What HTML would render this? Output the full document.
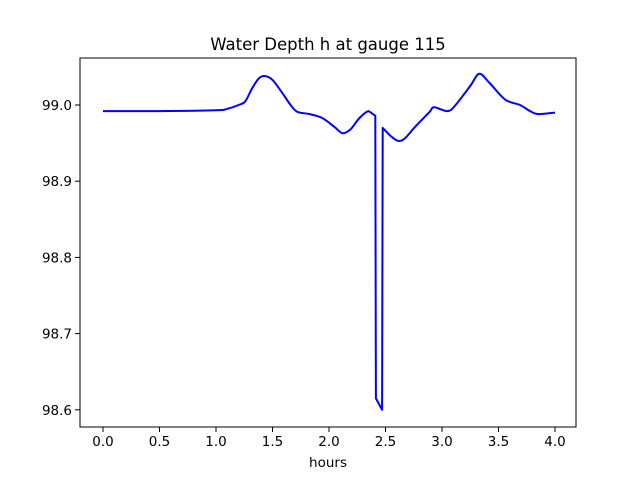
<!DOCTYPE html>
<html><head><meta charset="utf-8"><style>
body{margin:0;background:#fff;font-family:"DejaVu Sans","Liberation Sans",sans-serif}
</style></head><body>
<svg width="640" height="480" xmlns="http://www.w3.org/2000/svg" font-family="DejaVu Sans, Liberation Sans, sans-serif">
<rect width="640" height="480" fill="#fff"/>
<text x="328" y="50" text-anchor="middle" font-size="16.5">Water Depth h at gauge 115</text>
<g id="ticks"></g>
<path id="line" fill="none" stroke="#0000ff" stroke-width="2" stroke-linejoin="round"/>
<rect x="80" y="58" width="496" height="369" fill="none" stroke="#000" stroke-width="1"/>
<text x="328" y="467" text-anchor="middle" font-size="13.5">hours</text>
</svg>
<script>
const times=[0,0.5,1.0,1.1,1.2,1.26,1.32,1.38,1.43,1.5,1.59,1.66,1.72,1.83,1.94,2.05,2.12,2.19,2.27,2.35,2.41,2.415,2.47,2.475,2.54,2.61,2.67,2.76,2.89,2.93,3.05,3.12,3.25,3.33,3.42,3.56,3.69,3.78,3.85,4.0];
const depth=[98.992,98.992,98.993,98.995,99.0,99.005,99.022,99.035,99.038,99.033,99.015,99.0,98.991,98.988,98.983,98.971,98.963,98.968,98.983,98.992,98.986,98.615,98.6,98.97,98.96,98.953,98.956,98.971,98.991,98.997,98.992,99.0,99.025,99.041,99.029,99.007,99.0,98.992,98.988,98.99];
const xTicks=[0,0.5,1.0,1.5,2.0,2.5,3.0,3.5,4.0];
const yTicks=[98.6,98.7,98.8,98.9,99.0];
const xs=t=>103+113*t;
const ys=v=>105-762*(v-99);
const NS="http://www.w3.org/2000/svg";
const g=document.getElementById('ticks');
function mk(tag,a){const e=document.createElementNS(NS,tag);for(const k in a)e.setAttribute(k,a[k]);g.appendChild(e);return e;}
xTicks.forEach(t=>{
 const l=mk('line',{x1:xs(t),x2:xs(t),y1:427,y2:432,stroke:'#000'});
 
 
 const tx=mk('text',{x:xs(t),y:446,'text-anchor':'middle','font-size':'13.5'});
 tx.textContent=t.toFixed(1);
 
 
});
yTicks.forEach(v=>{
 const l=mk('line',{x1:75,x2:80,y1:ys(v),y2:ys(v),stroke:'#000'});
 
 
 const tx=mk('text',{x:72,y:ys(v)+5,'text-anchor':'end','font-size':'13.5'});
 tx.textContent=v.toFixed(1);
 
 
});
// smooth curve (Catmull-Rom) except around the sharp drop
const P=times.map((t,i)=>[xs(t),ys(depth[i])]);
let d='M'+P[0][0].toFixed(1)+' '+P[0][1].toFixed(1);
for(let i=0;i<P.length-1;i++){
 const p0=P[Math.max(0,i-1)],p1=P[i],p2=P[i+1],p3=P[Math.min(P.length-1,i+2)];
 const sharp=Math.abs(p2[1]-p1[1])>50||Math.abs(p1[1]-p0[1])>50||Math.abs(p3[1]-p2[1])>50;
 if(sharp){d+=' L'+p2[0].toFixed(1)+' '+p2[1].toFixed(1);continue;}
 const c1=[p1[0]+(p2[0]-p0[0])/6,p1[1]+(p2[1]-p0[1])/6];
 const c2=[p2[0]-(p3[0]-p1[0])/6,p2[1]-(p3[1]-p1[1])/6];
 d+=' C'+c1[0].toFixed(1)+' '+c1[1].toFixed(1)+' '+c2[0].toFixed(1)+' '+c2[1].toFixed(1)+' '+p2[0].toFixed(1)+' '+p2[1].toFixed(1);
}
document.getElementById('line').setAttribute('d',d);
</script>
</body></html>
